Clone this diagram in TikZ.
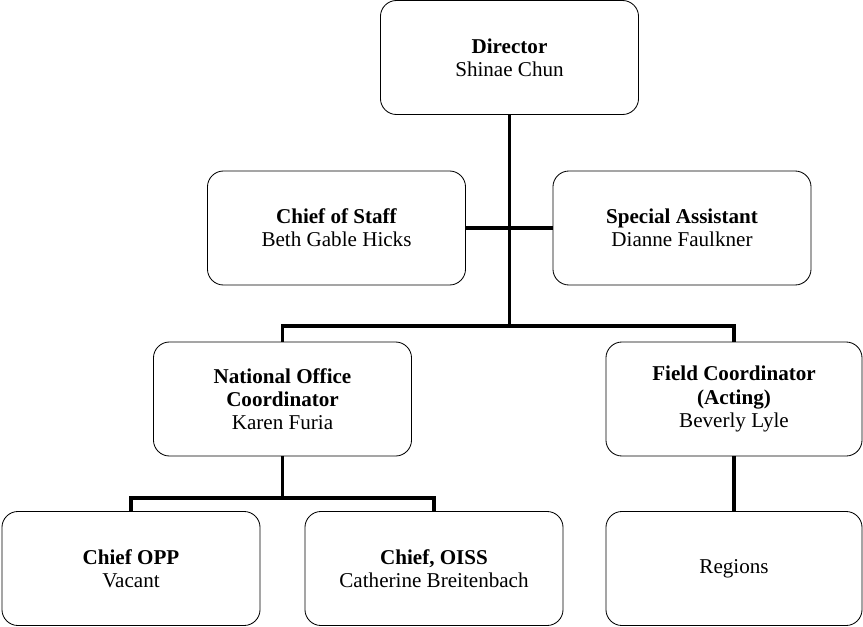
\documentclass[tikz,border=0pt]{standalone}
\usepackage{fontspec}
\setmainfont{Liberation Serif}
\usepackage{tikz}
\usetikzlibrary{positioning, calc}

\tikzset{
    post/.style={draw, rounded corners=0.4cm, line width=0.6pt, minimum width=6.45cm, minimum height=2.85cm, align=center, font=\fontsize{15}{16.4}\selectfont},
    link/.style={line width=2.2pt}
}

\begin{document}
\begin{tikzpicture}[x=0.025cm, y=-0.025cm]
    \useasboundingbox (0,0) rectangle (863,626);
    \node[post] (director) at (509.5,57.5) {\textbf{Director}\\ Shinae Chun};
    \node[post] (staff) at (336.5,228) {\textbf{Chief of Staff}\\ Beth Gable Hicks};
    \node[post] (assist) at (682,228) {\textbf{Special Assistant}\\ Dianne Faulkner};
    \node[post] (national) at (282.5,399) {\textbf{National Office}\\ \textbf{Coordinator}\\ Karen Furia};
    \node[post, minimum width=6.4cm] (field) at (734,399) {\textbf{Field Coordinator}\\ \textbf{(Acting)}\\ Beverly Lyle};
    \node[post] (opp) at (131,568.5) {\textbf{Chief OPP}\\ Vacant};
    \node[post] (oiss) at (434,568.5) {\textbf{Chief, OISS}\\ Catherine Breitenbach};
    \node[post, minimum width=6.4cm] (regions) at (734,568.5) {Regions};
    \coordinate (topbus) at (509.5,326);
    \coordinate (lowbus) at (282.5,498);
    \draw[link] (director.south) -- (topbus);
    \draw[link] (staff.east) -- (assist.west);
    \draw[link] (national.north) |- (topbus) -| (field.north);
    \draw[link] (national.south) -- (lowbus);
    \draw[link] (opp.north) |- (lowbus) -| (oiss.north);
    \draw[link] (field.south) -- (regions.north);
\end{tikzpicture}
\end{document}
